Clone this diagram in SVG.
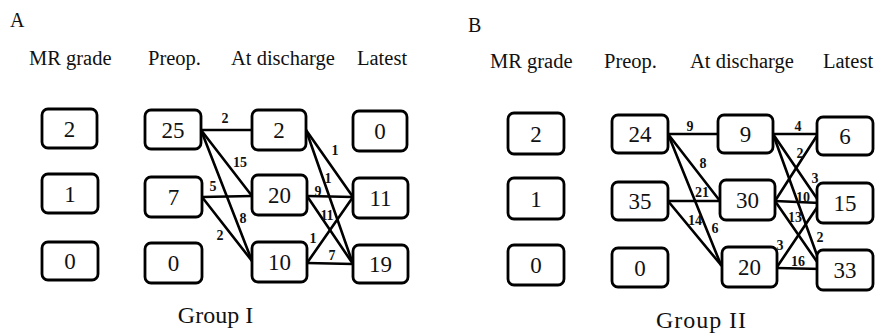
<svg xmlns="http://www.w3.org/2000/svg" width="876" height="335" viewBox="0 0 876 335">
<style>
text{font-family:"Liberation Serif","Times New Roman",serif;fill:#111}
.hd{font-size:20.5px}
.pn{font-size:20px}
.box rect{fill:#fff;stroke:#000;stroke-width:2.8}
.box text{font-size:23px;text-anchor:middle}
.lbl{font-size:14px;font-weight:bold;text-anchor:middle}
.conn line{stroke:#000;stroke-width:2.6;stroke-linecap:round}
.grp{font-size:24px;text-anchor:middle}
</style>
<rect width="876" height="335" fill="#fff"/>

<!-- Panel A -->
<text class="pn" x="10" y="27">A</text>
<text class="hd" x="29" y="65">MR grade</text>
<text class="hd" x="148" y="65">Preop.</text>
<text class="hd" x="231" y="65">At discharge</text>
<text class="hd" x="357" y="65">Latest</text>

<g id="connectors-A" class="conn">
<line x1="201" y1="130" x2="252" y2="130"/>
<line x1="201" y1="130" x2="252" y2="196"/>
<line x1="201" y1="130" x2="252" y2="261"/>
<line x1="202" y1="197" x2="252" y2="196"/>
<line x1="202" y1="197" x2="252" y2="261"/>
<line x1="306" y1="130" x2="353" y2="197"/>
<line x1="306" y1="130" x2="353" y2="264"/>
<line x1="307" y1="196" x2="353" y2="197"/>
<line x1="307" y1="196" x2="353" y2="264"/>
<line x1="307" y1="263" x2="353" y2="197"/>
<line x1="307" y1="263" x2="353" y2="264"/>
</g>
<g id="labels-A">
<text class="lbl" x="225" y="123">2</text>
<text class="lbl" x="240" y="167">15</text>
<text class="lbl" x="243" y="223">8</text>
<text class="lbl" x="213" y="191">5</text>
<text class="lbl" x="220" y="240">2</text>
<text class="lbl" x="335" y="155">1</text>
<text class="lbl" x="328" y="183">1</text>
<text class="lbl" x="318" y="196">9</text>
<text class="lbl" x="327" y="220">11</text>
<text class="lbl" x="313" y="243">1</text>
<text class="lbl" x="332" y="260">7</text>
</g>

<g id="A-mr2" class="box"><rect x="42" y="109" width="55" height="39" rx="6"/><text x="69.5" y="136.5">2</text></g>
<g id="A-mr1" class="box"><rect x="42" y="174" width="56" height="39" rx="6"/><text x="70" y="201.5">1</text></g>
<g id="A-mr0" class="box"><rect x="42" y="242" width="56" height="38" rx="6"/><text x="70" y="269">0</text></g>
<g id="A-pre2" class="box"><rect x="145" y="110" width="56" height="39" rx="6"/><text x="173" y="137.5">25</text></g>
<g id="A-pre1" class="box"><rect x="145" y="177" width="57" height="40" rx="6"/><text x="173.5" y="205">7</text></g>
<g id="A-pre0" class="box"><rect x="145" y="243" width="57" height="40" rx="6"/><text x="173.5" y="271">0</text></g>
<g id="A-dis2" class="box"><rect x="252" y="110" width="54" height="40" rx="6"/><text x="279" y="138">2</text></g>
<g id="A-dis1" class="box"><rect x="252" y="175" width="55" height="40" rx="6"/><text x="279.5" y="203">20</text></g>
<g id="A-dis0" class="box"><rect x="252" y="242" width="55" height="40" rx="6"/><text x="279.5" y="270">10</text></g>
<g id="A-lat2" class="box"><rect x="353" y="111" width="54" height="40" rx="6"/><text x="380" y="139">0</text></g>
<g id="A-lat1" class="box"><rect x="353" y="178" width="55" height="40" rx="6"/><text x="380.5" y="206">11</text></g>
<g id="A-lat0" class="box"><rect x="353" y="245" width="55" height="38" rx="6"/><text x="380.5" y="272">19</text></g>

<text class="grp" x="215.5" y="323">Group I</text>

<!-- Panel B -->
<text class="pn" x="468" y="32">B</text>
<text class="hd" x="490" y="68">MR grade</text>
<text class="hd" x="604" y="68">Preop.</text>
<text class="hd" x="690" y="68">At discharge</text>
<text class="hd" x="823" y="68">Latest</text>

<g id="connectors-B" class="conn">
<line x1="668" y1="134" x2="718" y2="134"/>
<line x1="668" y1="134" x2="720" y2="201"/>
<line x1="668" y1="134" x2="721" y2="265"/>
<line x1="668" y1="201" x2="720" y2="201"/>
<line x1="668" y1="201" x2="721" y2="265"/>
<line x1="773" y1="134" x2="817" y2="134"/>
<line x1="773" y1="134" x2="820" y2="203"/>
<line x1="773" y1="134" x2="822" y2="269"/>
<line x1="775" y1="201" x2="818" y2="134"/>
<line x1="775" y1="201" x2="820" y2="203"/>
<line x1="775" y1="201" x2="822" y2="269"/>
<line x1="777" y1="267" x2="820" y2="203"/>
<line x1="777" y1="268" x2="822" y2="269"/>
</g>
<g id="labels-B">
<text class="lbl" x="690" y="131">9</text>
<text class="lbl" x="703" y="168">8</text>
<text class="lbl" x="702" y="197">21</text>
<text class="lbl" x="695" y="225">14</text>
<text class="lbl" x="715" y="233">6</text>
<text class="lbl" x="798" y="131">4</text>
<text class="lbl" x="800" y="158">2</text>
<text class="lbl" x="815" y="183">3</text>
<text class="lbl" x="803" y="202">10</text>
<text class="lbl" x="795" y="222">13</text>
<text class="lbl" x="820" y="242">2</text>
<text class="lbl" x="780" y="250">3</text>
<text class="lbl" x="798" y="266">16</text>
</g>

<g id="B-mr2" class="box"><rect x="508" y="113" width="56" height="41" rx="6"/><text x="536" y="141.5">2</text></g>
<g id="B-mr1" class="box"><rect x="508" y="178" width="56" height="41" rx="6"/><text x="536" y="206.5">1</text></g>
<g id="B-mr0" class="box"><rect x="508" y="245" width="56" height="40" rx="6"/><text x="536" y="273">0</text></g>
<g id="B-pre2" class="box"><rect x="612" y="115" width="56" height="38" rx="6"/><text x="640" y="142">24</text></g>
<g id="B-pre1" class="box"><rect x="612" y="182" width="56" height="38" rx="6"/><text x="640" y="209">35</text></g>
<g id="B-pre0" class="box"><rect x="612" y="248" width="56" height="39" rx="6"/><text x="640" y="275.5">0</text></g>
<g id="B-dis2" class="box"><rect x="718" y="115" width="55" height="38" rx="6"/><text x="745.5" y="142">9</text></g>
<g id="B-dis1" class="box"><rect x="720" y="180" width="55" height="40" rx="6"/><text x="747.5" y="208">30</text></g>
<g id="B-dis0" class="box"><rect x="722" y="247" width="55" height="40" rx="6"/><text x="749.5" y="275">20</text></g>
<g id="B-lat2" class="box"><rect x="817" y="117" width="56" height="38" rx="6"/><text x="845" y="144">6</text></g>
<g id="B-lat1" class="box"><rect x="817" y="183" width="56" height="40" rx="6"/><text x="845" y="211">15</text></g>
<g id="B-lat0" class="box"><rect x="817" y="250" width="56" height="40" rx="6"/><text x="845" y="278">33</text></g>

<text class="grp" x="701" y="328" textLength="90">Group II</text>
</svg>
